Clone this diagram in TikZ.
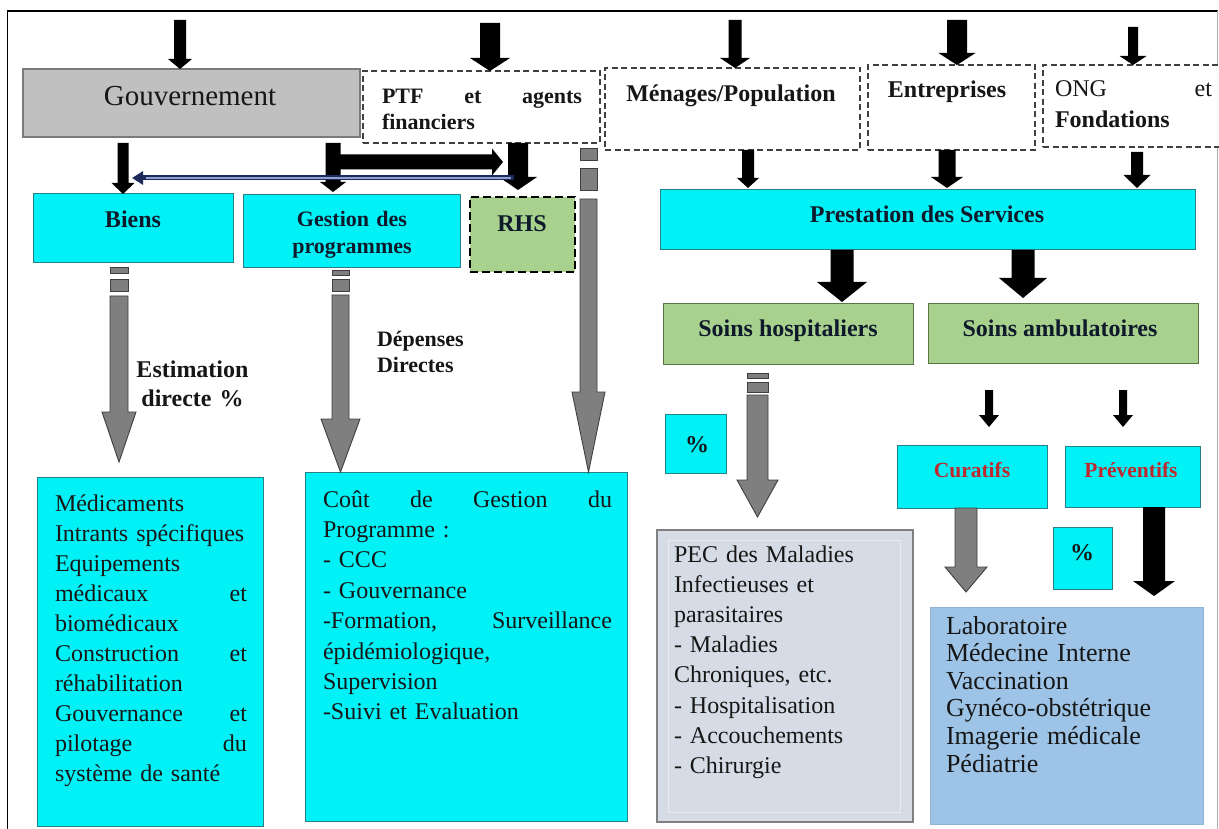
\documentclass[tikz,border=0pt]{standalone}
\usepackage{fontspec}
\setmainfont{Liberation Serif}
\usetikzlibrary{calc,arrows.meta}

\definecolor{cyanF}{HTML}{00F2F6}
\definecolor{cyanD}{HTML}{2A7F86}
\definecolor{greenF}{HTML}{A9D18E}
\definecolor{greenD}{HTML}{5B7444}
\definecolor{govF}{HTML}{C0C0C0}
\definecolor{govD}{HTML}{7A7A7A}
\definecolor{pecF}{HTML}{D6DCE5}
\definecolor{pecD}{HTML}{808080}
\definecolor{blueF}{HTML}{9DC3E6}
\definecolor{arrG}{HTML}{7F7F7F}
\definecolor{arrD}{HTML}{3F3F3F}
\definecolor{navy}{HTML}{1F2A5C}
\definecolor{navyL}{HTML}{8EA2D0}
\definecolor{redT}{HTML}{C0282D}
\definecolor{txt}{HTML}{161616}
\definecolor{titleC}{HTML}{0E1A2B}
\definecolor{dashC}{HTML}{404040}

\newcommand{\fs}[2]{\fontsize{#1pt}{#2pt}\selectfont}
% box: style, x1, y1, x2, y2, name
\newcommand{\mkbox}[6]{\node[#1, anchor=north west, inner sep=0pt, outer sep=0pt,
  minimum width={(#4-#2)*1pt}, minimum height={(#5-#3)*1pt}] (#6) at (#2,#3) {};}
% down block arrow: [style] x, from, to, shaft width, head width, head length
\newcommand{\dnarr}[7][blk]{%
  \path[#1] let \p1=#3, \p2=#4 in
   ({#2pt-#5*0.5pt},\y1) -- ({#2pt+#5*0.5pt},\y1) -- ({#2pt+#5*0.5pt},\y2+#7pt)
   -- ({#2pt+#6*0.5pt},\y2+#7pt) -- (#2pt,\y2) -- ({#2pt-#6*0.5pt},\y2+#7pt)
   -- ({#2pt-#5*0.5pt},\y2+#7pt) -- cycle;}
% right block arrow: [style] from, to, shaft width, head width, head length
\newcommand{\rtarr}[6][blk]{%
  \path[#1] let \p1=#2, \p2=#3 in
   (\x1,\y1+#4*0.5pt) -- (\x2-#6pt,\y1+#4*0.5pt) -- (\x2-#6pt,\y1+#5*0.5pt)
   -- (\x2,\y1) -- (\x2-#6pt,\y1-#5*0.5pt) -- (\x2-#6pt,\y1-#4*0.5pt)
   -- (\x1,\y1-#4*0.5pt) -- cycle;}

\tikzset{
 govbox/.style={fill=govF, draw=govD, line width=1.2pt},
 dashbox/.style={fill=white, draw=dashC, line width=1.3pt, dash pattern=on 6pt off 3.5pt},
 cyanbox/.style={fill=cyanF, draw=cyanD, line width=1pt},
 greenbox/.style={fill=greenF, draw=greenD, line width=1pt},
 rhsbox/.style={fill=greenF, draw=black, line width=2pt, dash pattern=on 8pt off 4pt},
 pecbox/.style={fill=pecF, draw=pecD, line width=1.2pt},
 bluebox/.style={fill=blueF, draw=blueF!92!black, line width=0.5pt},
 blk/.style={fill=black},
 garr/.style={fill=arrG, draw=arrD, line width=0.9pt},
 lbl/.style={inner sep=0pt, outer sep=0pt, text=titleC, font=\bfseries\fs{24}{29}},
 body/.style={inner sep=0pt, outer sep=0pt, text=txt, anchor=north west, align=left},
}

\begin{document}
\begin{tikzpicture}[x=1pt,y=-1pt]
\useasboundingbox (0,0) rectangle (1219,829);
\clip (0,0) rectangle (1219,829);
\fill[white] (0,0) rectangle (1219,829);

% frame
\draw[black, line width=1.8pt] (7.5,840) -- (7.5,11) -- (1217.5,11);
\draw[gray!60, line width=1pt] (1217.5,11) -- (1217.5,840);

% ---------- boxes ----------
\mkbox{govbox}{23}{69}{360}{137}{gov}
\mkbox{dashbox}{363}{71}{600}{143}{ptf}
\mkbox{dashbox}{605}{68}{860}{150}{men}
\mkbox{dashbox}{868}{65}{1035}{150}{ent}
\mkbox{dashbox}{1043}{65}{1232}{147}{ong}
\mkbox{cyanbox}{33}{194}{233}{263}{biens}
\mkbox{cyanbox}{243}{195}{460}{268}{gest}
\mkbox{rhsbox}{470}{197}{575}{272}{rhs}
\mkbox{cyanbox}{660}{190}{1195}{250}{prest}
\mkbox{greenbox}{663}{304}{913}{364}{hosp}
\mkbox{greenbox}{928}{304}{1198}{363}{amb}
\mkbox{cyanbox}{665}{414}{726}{473}{pctA}
\mkbox{cyanbox}{897}{445}{1047}{508}{cur}
\mkbox{cyanbox}{1065}{446}{1200}{507}{prev}
\mkbox{cyanbox}{1053}{527}{1112}{589}{pctB}
\mkbox{cyanbox}{37}{477}{263}{826}{med}
\mkbox{cyanbox}{305}{472}{627}{821}{cout}
\mkbox{pecbox}{657}{530}{913}{822}{pec}
\mkbox{bluebox}{930}{607}{1203}{824}{blue}
\draw[pecF!55!white, line width=1pt] (668,540) rectangle (900,812);

% ---------- black arrows ----------
\coordinate (t1) at (180,20);
\coordinate (t2) at (490,23);
\coordinate (t3) at (735,20);
\coordinate (t4) at (957,20);
\coordinate (t5) at (1133,27);
\dnarr{180}{(t1)}{(gov.north)}{12}{24}{10}
\dnarr{490}{(t2)}{(ptf.north)}{20}{40}{13}
\dnarr{735}{(t3)}{(men.north)}{13}{30}{10}
\dnarr{957}{(t4)}{(ent.north)}{20}{37}{12}
\dnarr{1133}{(t5)}{(ong.north)}{10}{27}{9}

\dnarr{123}{($(gov.south)+(0,6)$)}{(biens.north)}{11}{23}{11}
\dnarr{333}{($(gov.south)+(0,6)$)}{($(gest.north)+(0,-3)$)}{15}{26}{10}
\dnarr{518}{(ptf.south)}{($(rhs.north)+(0,-7)$)}{20}{38}{13}
\coordinate (h1) at (338,162);
\coordinate (h2) at (503,162);
\rtarr{(h1)}{(h2)}{15}{27}{11}

\dnarr{748}{(men.south)}{($(prest.north)+(0,-2)$)}{12}{22}{10}
\dnarr{947}{(ent.south)}{($(prest.north)+(0,-2)$)}{17}{32}{11}
\dnarr{1137}{($(ong.south)+(0,5)$)}{($(prest.north)+(0,-2)$)}{12}{27}{13}
\dnarr{842}{(prest.south)}{($(hosp.north)+(0,-2)$)}{23}{50}{20}
\dnarr{1023}{(prest.south)}{($(amb.north)+(0,-6)$)}{23}{48}{20}
\dnarr{989}{($(amb.south)+(0,27)$)}{($(cur.north)+(0,-18)$)}{8}{20}{12}
\dnarr{1123}{($(amb.south)+(0,27)$)}{($(prev.north)+(0,-19)$)}{8}{20}{12}
\dnarr{1154}{(prev.south)}{($(blue.north)+(0,-11)$)}{22}{42}{15}

% navy return arrow
\coordinate (n1) at (514,178);
\coordinate (n2) at (132,178);
\draw[navy, line width=5pt, -{Triangle[length=11pt,width=13pt]}] (n1) -- (n2);
\draw[navyL, line width=1.3pt, shorten <=3pt, shorten >=14pt] (n1) -- (n2);

% ---------- grey arrows ----------
\path[garr] (110,267) rectangle (128,273);
\path[garr] (110,279) rectangle (128,291);
\dnarr[garr]{119}{($(biens.south)+(0,33)$)}{($(med.north)+(0,-15)$)}{18}{34}{50}
\path[garr] (332,270) rectangle (349,275);
\path[garr] (332,279) rectangle (349,291);
\dnarr[garr]{340.5}{($(gest.south)+(0,27)$)}{(cout.north)}{17}{39}{53}
\path[garr] (580,148) rectangle (597,160);
\path[garr] (580,168) rectangle (597,190);
\dnarr[garr]{588.5}{($(ptf.south)+(0,56)$)}{(cout.north)}{17}{33}{80}
\path[garr] (747,373) rectangle (768,378);
\path[garr] (747,382) rectangle (768,392);
\dnarr[garr]{757.5}{($(hosp.south)+(0,31)$)}{($(pec.north)+(0,-13)$)}{21}{41}{37}
\dnarr[garr]{966}{(cur.south)}{($(blue.north)+(0,-15)$)}{22}{42}{25}

% ---------- labels ----------
\node[lbl, text=txt, font=\fs{29}{34}, anchor=base] (tgov) at (190,106) {Gouvernement};
\node[body, text=txt, font=\bfseries\fs{22}{26}, text width=200pt] (tptf) at (382,86.4)
  {\rule{0pt}{17.6pt}PTF\hfill et\hfill agents\\financiers};
\node[lbl, text=txt, anchor=base] (tmen) at (731,102) {Ménages/Population};
\node[lbl, text=txt, anchor=base] (tent) at (947,98) {Entreprises};
\node[body, text=txt, font=\fs{24}{31}, text width=157pt] (tong) at (1055,77.8)
  {\rule{0pt}{19.2pt}ONG\hfill et\\\textbf{Fondations}};

\node[lbl, anchor=base] (tbiens) at (133,228) {Biens};
\node[lbl, font=\bfseries\fs{22}{27}, anchor=north, align=center, text width=200pt] (tgest) at (352,209.4)
  {\rule{0pt}{17.6pt}Gestion des\\programmes};
\node[lbl, anchor=base] (trhs) at (522,232) {RHS};
\node[lbl, anchor=base] (tprest) at (927,223) {Prestation des Services};
\node[lbl, anchor=base] (thosp) at (788,337) {Soins hospitaliers};
\node[lbl, anchor=base] (tamb) at (1060,337) {Soins ambulatoires};
\node[lbl, text=redT, font=\bfseries\fs{21.5}{26}, anchor=base] (tcur) at (972,477) {Curatifs};
\node[lbl, text=redT, font=\bfseries\fs{21.5}{26}, anchor=base] (tprev) at (1131,477) {Préventifs};
\node[lbl, text=txt, anchor=base] (tpa) at (697,452) {\%};
\node[lbl, text=txt, anchor=base] (tpb) at (1082,560) {\%};

\node[lbl, text=txt, font=\bfseries\fs{24}{29}, anchor=north, align=center, text width=140pt] (testim) at (192.5,357.8)
  {\rule{0pt}{19.2pt}Estimation\\directe \%};
\node[body, font=\bfseries\fs{22}{26}, text width=130pt] (tdep) at (377,328.4)
  {\rule{0pt}{17.6pt}Dépenses\\Directes};

\node[body, font=\fs{24}{30.1}, text width=192pt] (tmed) at (55,491.8)
  {\rule{0pt}{19.2pt}Médicaments\\
   Intrants spécifiques\\
   Equipements\\
   médicaux\hfill et\\
   biomédicaux\\
   Construction\hfill et\\
   réhabilitation\\
   Gouvernance\hfill et\\
   pilotage\hfill du\\
   système de santé};

\node[body, font=\fs{24}{30.4}, text width=289pt] (tcout) at (323,487.8)
  {\rule{0pt}{19.2pt}Coût\hfill de\hfill Gestion\hfill du\\
   Programme :\\
   - CCC\\
   - Gouvernance\\
   -Formation,\hfill Surveillance\\
   épidémiologique,\\
   Supervision\\
   -Suivi et Evaluation};

\node[body, font=\fs{24}{30.2}, text width=232pt] (tpec) at (674,542.8)
  {\rule{0pt}{19.2pt}PEC des Maladies\\
   Infectieuses et\\
   parasitaires\\
   - Maladies\\
   Chroniques, etc.\\
   - Hospitalisation\\
   - Accouchements\\
   - Chirurgie};

\node[body, font=\fs{26}{27.6}, text width=250pt] (tblue) at (946,613.2)
  {\rule{0pt}{20.8pt}Laboratoire\\
   Médecine Interne\\
   Vaccination\\
   Gynéco-obstétrique\\
   Imagerie médicale\\
   Pédiatrie};
\end{tikzpicture}
\end{document}
